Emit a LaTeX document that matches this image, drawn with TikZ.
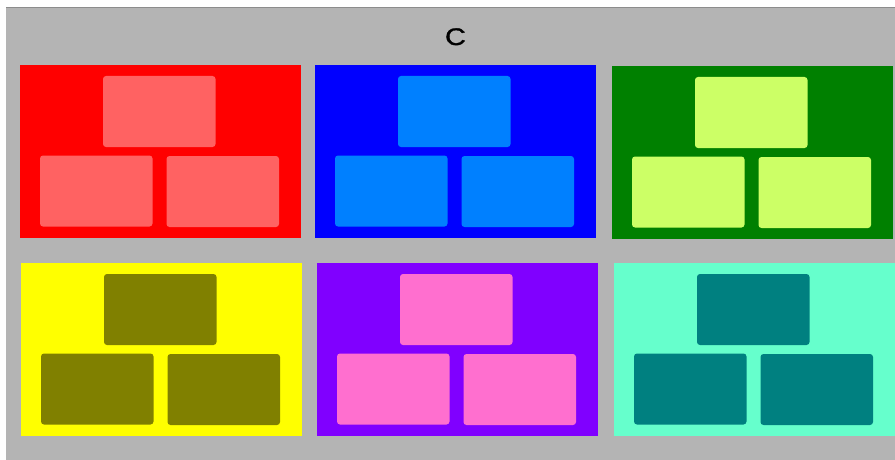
\documentclass[tikz,border=0pt]{standalone}
\usepackage{fontspec}
\setmainfont{Liberation Sans}
\newfontfamily\headfont[FakeBold=1.2]{Liberation Sans}

% panel fills and tile fills
\definecolor{framegray}{HTML}{B4B4B4}
\definecolor{frameedge}{HTML}{8C8C8C}
\definecolor{panelred}{HTML}{FF0000}
\definecolor{tilered}{HTML}{FF6262}
\definecolor{panelblue}{HTML}{0000FF}
\definecolor{tileblue}{HTML}{0080FF}
\definecolor{panelgreen}{HTML}{008000}
\definecolor{tilegreen}{HTML}{CCFF66}
\definecolor{panelyellow}{HTML}{FFFF00}
\definecolor{tileolive}{HTML}{808000}
\definecolor{panelviolet}{HTML}{8000FF}
\definecolor{tilepink}{HTML}{FF6FCF}
\definecolor{panelaqua}{HTML}{66FFCC}
\definecolor{tileteal}{HTML}{008080}

\begin{document}
\begin{tikzpicture}[x=1pt,y=-1pt,
  panel/.style={draw=none, inner sep=0pt, outer sep=0pt,
    minimum width=280.5pt, minimum height=173pt, anchor=north west},
  tile/.style={draw=none, inner sep=0pt, outer sep=0pt,
    minimum width=112.5pt, minimum height=71pt, anchor=north west,
    rounded corners=3pt},
  heading/.style={font=\headfont\fontsize{24}{24}\selectfont, inner sep=0pt,
    anchor=base, xscale=1.2}]
  \useasboundingbox (0,0) rectangle (895,460);
  \fill[white] (0,0) rectangle (895,460);
  % grey frame with its shaded top edge
  \fill[framegray] (6,7) rectangle (895,460);
  \draw[frameedge, line width=1pt] (6,7.5) -- (895,7.5);

  \node[heading] (title) at (455.5,45) {C};

  % six panels, each holding three tiles
  \foreach \name/\px/\py/\outer/\inner in {
      red/20/65/panelred/tilered,
      blue/315/65/panelblue/tileblue,
      green/612/66/panelgreen/tilegreen,
      yellow/21/263/panelyellow/tileolive,
      violet/317/263/panelviolet/tilepink,
      aqua/614/263/panelaqua/tileteal} {
    \node[panel, fill=\outer] (\name) at (\px,\py) {};
    \node[tile, fill=\inner] (\name-top) at ([shift={(83,11)}]\name.north west) {};
    \node[tile, fill=\inner] (\name-left) at ([shift={(20,90.5)}]\name.north west) {};
    \node[tile, fill=\inner] (\name-right) at ([shift={(146.5,91)}]\name.north west) {};
  }
\end{tikzpicture}
\end{document}
